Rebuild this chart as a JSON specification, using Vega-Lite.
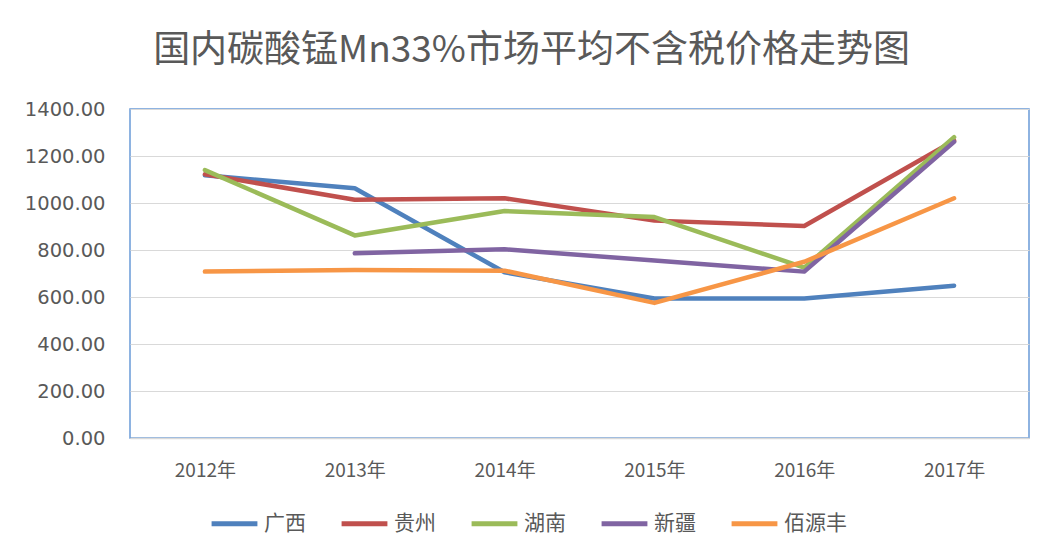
{
  "$schema": "https://vega.github.io/schema/vega-lite/v6.json",
  "autosize": {"type": "none"},
  "width": 899,
  "height": 329,
  "padding": {"left": 130, "top": 109, "right": 17, "bottom": 119},
  "background": "white",
  "title": {
    "text": "国内碳酸锰Mn33%市场平均不含税价格走势图",
    "font": "Noto Sans CJK SC",
    "fontSize": 37,
    "fontWeight": "normal",
    "color": "#595959",
    "anchor": "middle",
    "dx": -48,
    "offset": 29
  },
  "data": {
    "values": [
      {"year": "2012年", "region": "广西", "price": 1118},
      {"year": "2013年", "region": "广西", "price": 1063},
      {"year": "2014年", "region": "广西", "price": 705},
      {"year": "2015年", "region": "广西", "price": 594},
      {"year": "2016年", "region": "广西", "price": 594},
      {"year": "2017年", "region": "广西", "price": 648},
      {"year": "2012年", "region": "贵州", "price": 1122},
      {"year": "2013年", "region": "贵州", "price": 1014},
      {"year": "2014年", "region": "贵州", "price": 1020},
      {"year": "2015年", "region": "贵州", "price": 925},
      {"year": "2016年", "region": "贵州", "price": 902},
      {"year": "2017年", "region": "贵州", "price": 1265},
      {"year": "2012年", "region": "湖南", "price": 1140},
      {"year": "2013年", "region": "湖南", "price": 862},
      {"year": "2014年", "region": "湖南", "price": 966},
      {"year": "2015年", "region": "湖南", "price": 940},
      {"year": "2016年", "region": "湖南", "price": 725},
      {"year": "2017年", "region": "湖南", "price": 1280},
      {"year": "2013年", "region": "新疆", "price": 786},
      {"year": "2014年", "region": "新疆", "price": 803},
      {"year": "2015年", "region": "新疆", "price": 755},
      {"year": "2016年", "region": "新疆", "price": 708},
      {"year": "2017年", "region": "新疆", "price": 1260},
      {"year": "2012年", "region": "佰源丰", "price": 708},
      {"year": "2013年", "region": "佰源丰", "price": 715},
      {"year": "2014年", "region": "佰源丰", "price": 712},
      {"year": "2015年", "region": "佰源丰", "price": 575},
      {"year": "2016年", "region": "佰源丰", "price": 750},
      {"year": "2017年", "region": "佰源丰", "price": 1020}
    ]
  },
  "mark": {"type": "line", "strokeWidth": 4.5, "strokeCap": "round", "strokeJoin": "round"},
  "encoding": {
    "x": {
      "field": "year",
      "type": "nominal",
      "sort": null,
      "scale": {"type": "point", "padding": 0.5},
      "axis": {
        "title": null,
        "labelAngle": 0,
        "labelFont": "Noto Sans CJK SC",
        "labelFontSize": 19,
        "labelColor": "#595959",
        "labelPadding": 23,
        "ticks": false,
        "domainColor": "#D9D9D9",
        "domainWidth": 1.5,
        "grid": false
      }
    },
    "y": {
      "field": "price",
      "type": "quantitative",
      "scale": {"domain": [0, 1400], "nice": false, "zero": true},
      "axis": {
        "title": null,
        "values": [0, 200, 400, 600, 800, 1000, 1200, 1400],
        "format": ".2f",
        "labelFont": "DejaVu Sans",
        "labelFontSize": 19.5,
        "labelColor": "#595959",
        "labelPadding": 25,
        "ticks": false,
        "domain": false,
        "grid": true,
        "gridColor": "#D9D9D9",
        "gridWidth": 1.2
      }
    },
    "color": {
      "field": "region",
      "type": "nominal",
      "sort": ["广西", "贵州", "湖南", "新疆", "佰源丰"],
      "scale": {
        "domain": ["广西", "贵州", "湖南", "新疆", "佰源丰"],
        "range": ["#4F81BD", "#C0504D", "#9BBB59", "#8064A2", "#F79646"]
      },
      "legend": {
        "title": null,
        "orient": "none",
        "direction": "horizontal",
        "legendX": 79,
        "legendY": 389,
        "symbolType": "stroke",
        "symbolSize": 2100,
        "symbolStrokeWidth": 5,
        "labelFont": "Noto Sans CJK SC",
        "labelFontSize": 21,
        "labelColor": "#595959",
        "labelOffset": 4,
        "columnPadding": 25
      }
    }
  },
  "config": {
    "view": {"stroke": "#6A9BD8", "strokeWidth": 1.5}
  }
}
